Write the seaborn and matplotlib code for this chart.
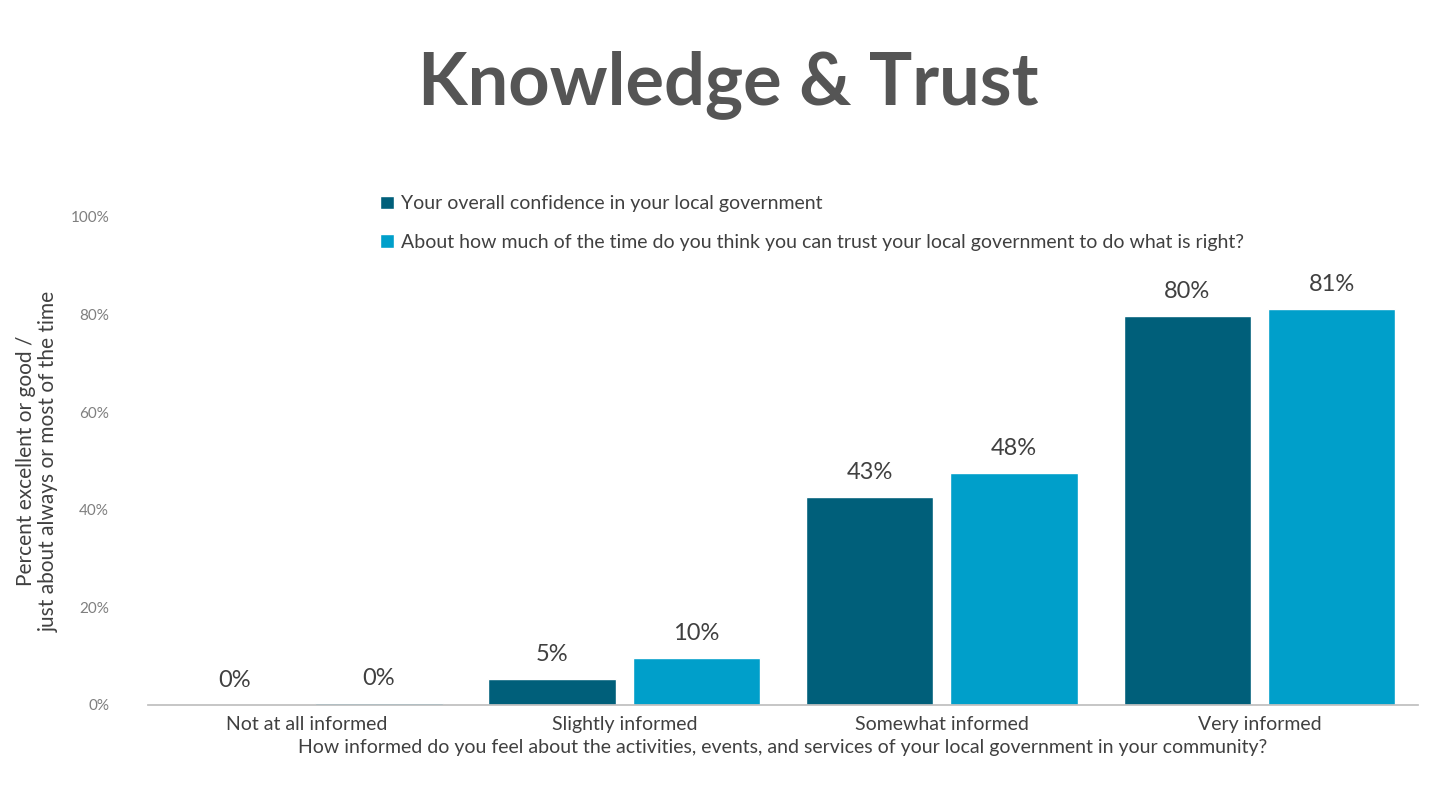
import matplotlib
matplotlib.use("Agg")
import matplotlib.pyplot as plt
import seaborn as sns
import pandas as pd

categories = ["Not at all informed", "Slightly informed", "Somewhat informed", "Very informed"]
series_names = ["Your overall confidence in your local government",
                "About how much of the time do you think you can trust your local government to do what is right?"]
confidence = [0.0, 5.3, 42.7, 79.7]
trust = [0.5, 9.6, 47.6, 81.2]
colors = ["#005f7a", "#009fca"]

df = pd.DataFrame({
    "cat": categories * 2,
    "series": [series_names[0]] * 4 + [series_names[1]] * 4,
    "val": confidence + trust,
})

sns.set_theme(style="white")
plt.rcParams["font.family"] = ["Lato", "DejaVu Sans"]

fig = plt.figure(figsize=(14.56, 8.08), dpi=100)
ax = fig.add_axes([0.1016, 0.1275, 0.8724, 0.604])
sns.barplot(data=df, x="cat", y="val", hue="series", palette=colors, ax=ax,
            width=0.91, gap=0.12, saturation=1, order=categories, hue_order=series_names)

for cont in ax.containers:
    ax.bar_label(cont, labels=[f"{round(b.get_height()):.0f}%" for b in cont],
                 padding=10, fontsize=17, color="#404040")

ax.set_ylim(0, 100)
ax.set_xlim(-0.5, 3.5)
ax.set_yticks(range(0, 101, 20))
ax.set_yticklabels([f"{v}%" for v in range(0, 101, 20)], fontsize=11, color="#7f7f7f")
ax.tick_params(axis="x", labelsize=14, labelcolor="#404040", length=0, pad=8)
ax.tick_params(axis="y", length=0, pad=28)
for s in ["top", "right", "left"]:
    ax.spines[s].set_visible(False)
ax.spines["bottom"].set_color("#bfbfbf")
ax.set_xlabel("How informed do you feel about the activities, events, and services of your local government in your community?",
              fontsize=14, color="#404040", labelpad=4)
ax.set_ylabel("Percent excellent or good /\njust about always or most of the time",
              fontsize=15, color="#404040", labelpad=8)

leg = ax.legend(loc="upper left", bbox_to_anchor=(0.2455 - 0.1016, 0.78), bbox_transform=fig.transFigure,
                frameon=False, fontsize=14, handlelength=0.7, handleheight=0.7,
                handletextpad=0.4, labelspacing=1.1, labelcolor="#404040")
ax.legend_.set_bbox_to_anchor((0.249, 0.78), transform=fig.transFigure)

fig.text(0.5, 0.895, "Knowledge & Trust", ha="center", va="center",
         fontsize=52, fontweight="bold", color="#555555")

fig.savefig("out.png", dpi=100, facecolor="white")
